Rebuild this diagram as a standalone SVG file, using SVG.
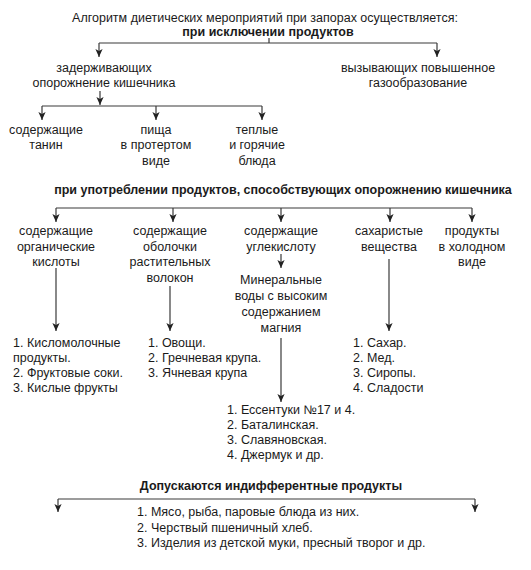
<svg xmlns="http://www.w3.org/2000/svg" width="531" height="570" viewBox="0 0 531 570">
<style>
text{font-family:"Liberation Sans",Arial,sans-serif;font-size:12.5px;fill:#1a1a1a}
.c{text-anchor:middle}
.b{font-weight:bold}
.ln{stroke:#3a3a3a;stroke-width:1.2;fill:none}
.ar{stroke:#3a3a3a;stroke-width:1.2;fill:none;marker-end:url(#ah)}
</style>
<defs>
<marker id="ah" markerUnits="userSpaceOnUse" markerWidth="8" markerHeight="8" viewBox="0 0 8 8" refX="8" refY="4" orient="auto">
<path d="M0,0.4 L8,4 L0,7.6 L2,4 Z" fill="#222"/>
</marker>
</defs>
<rect width="531" height="570" fill="#fff"/>
<g id="title">
<text class="c" x="265" y="22">Алгоритм диетических мероприятий при запорах осуществляется:</text>
<text class="c b" x="268" y="36">при исключении продуктов</text>
</g>
<g id="n-zaderzh"><text class="c" x="104" y="72">задерживающих</text><text class="c" x="104" y="87">опорожнение кишечника</text></g>
<g id="n-vyzyv"><text class="c" x="418" y="72">вызывающих повышенное</text><text class="c" x="418" y="87">газообразование</text></g>
<g id="n-tanin"><text class="c" x="46" y="134">содержащие</text><text class="c" x="46" y="149">танин</text></g>
<g id="n-pishcha"><text class="c" x="156" y="134">пища</text><text class="c" x="156" y="149">в протертом</text><text class="c" x="156" y="165">виде</text></g>
<g id="n-teplye"><text class="c" x="257" y="134">теплые</text><text class="c" x="257" y="149">и горячие</text><text class="c" x="257" y="165">блюда</text></g>
<g id="section2"><text class="c b" x="283" y="194">при употреблении продуктов, способствующих опорожнению кишечника</text></g>
<g id="n-org"><text class="c" x="56" y="235">содержащие</text><text class="c" x="56" y="251">органические</text><text class="c" x="56" y="266">кислоты</text></g>
<g id="n-obol"><text class="c" x="170" y="235">содержащие</text><text class="c" x="170" y="251">оболочки</text><text class="c" x="170" y="266">растительных</text><text class="c" x="170" y="282">волокон</text></g>
<g id="n-ugle"><text class="c" x="281" y="235">содержащие</text><text class="c" x="281" y="251">углекислоту</text></g>
<g id="n-miner"><text class="c" x="281" y="284">Минеральные</text><text class="c" x="281" y="300">воды с высоким</text><text class="c" x="281" y="316">содержанием</text><text class="c" x="281" y="332">магния</text></g>
<g id="n-sahar"><text class="c" x="389" y="235">сахаристые</text><text class="c" x="389" y="251">вещества</text></g>
<g id="n-holod"><text class="c" x="472" y="235">продукты</text><text class="c" x="472" y="251">в холодном</text><text class="c" x="472" y="266">виде</text></g>
<g id="l-org"><text x="13" y="347">1. Кисломолочные</text><text x="13" y="362">продукты.</text><text x="13" y="377">2. Фруктовые соки.</text><text x="13" y="392">3. Кислые фрукты</text></g>
<g id="l-obol"><text x="148" y="347">1. Овощи.</text><text x="148" y="362">2. Гречневая крупа.</text><text x="148" y="377">3. Ячневая крупа</text></g>
<g id="l-sahar"><text x="353" y="347">1. Сахар.</text><text x="353" y="362">2. Мед.</text><text x="353" y="377">3. Сиропы.</text><text x="353" y="392">4. Сладости</text></g>
<g id="l-miner"><text x="227" y="414">1. Ессентуки №17 и 4.</text><text x="227" y="429">2. Баталинская.</text><text x="227" y="444">3. Славяновская.</text><text x="227" y="459">4. Джермук и др.</text></g>
<g id="section3"><text class="c b" x="271" y="490">Допускаются индифферентные продукты</text></g>
<g id="l-indif"><text x="137" y="516">1. Мясо, рыба, паровые блюда из них.</text><text x="137" y="532">2. Черствый пшеничный хлеб.</text><text x="137" y="547">3. Изделия из детской муки, пресный творог и др.</text></g>
<g id="connectors">
<path class="ln" d="M269,38 V43 M99,43 H437"/>
<path class="ar" d="M99,43 V57"/>
<path class="ar" d="M437,43 V57"/>
<path class="ar" d="M100,91 V105"/>
<path class="ln" d="M42,106 H262"/>
<path class="ar" d="M42,106 V120"/>
<path class="ar" d="M156,106 V120"/>
<path class="ar" d="M262,106 V120"/>
<path class="ln" d="M56,208 H472"/>
<path class="ar" d="M56,208 V222"/>
<path class="ar" d="M173,208 V222"/>
<path class="ar" d="M281,208 V222"/>
<path class="ar" d="M390,208 V222"/>
<path class="ar" d="M472,208 V222"/>
<path class="ar" d="M56,268 V331"/>
<path class="ar" d="M170,286 V331"/>
<path class="ar" d="M389,259 V331"/>
<path class="ar" d="M281,254 V268"/>
<path class="ar" d="M281,338 V402"/>
<path class="ln" d="M58,499 H475"/>
<path class="ar" d="M58,499 V512"/>
<path class="ar" d="M475,499 V512"/>
</g>
</svg>
